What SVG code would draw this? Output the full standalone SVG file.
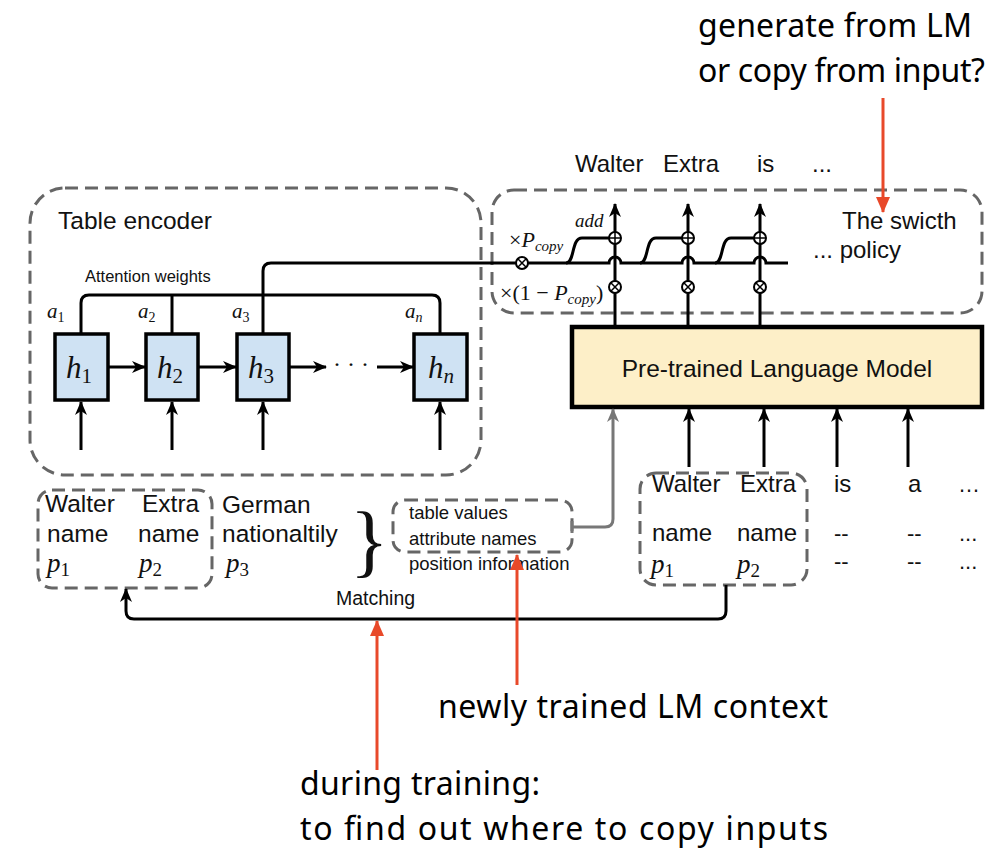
<svg xmlns="http://www.w3.org/2000/svg" width="1007" height="849" viewBox="0 0 1007 849">
<style>
.sans{font-family:"Liberation Sans",Arial,sans-serif;fill:#111}
.math{font-family:"Liberation Serif","Times New Roman",serif;font-style:italic;fill:#111}
.num{font-style:normal}
.note{font-family:"Noto Sans","Open Sans",sans-serif;fill:#000}
.dash{fill:none;stroke:#666;stroke-width:3;stroke-dasharray:13 7}
.hbox{fill:#cfe2f3;stroke:#000;stroke-width:3.5}
.ln{fill:none;stroke:#000;stroke-width:3}
.red{fill:none;stroke:#e8492a;stroke-width:3}
.op{fill:#fff;stroke:#000;stroke-width:2}
</style>
<defs>
<marker id="ah" markerUnits="userSpaceOnUse" markerWidth="14" markerHeight="14" refX="13" refY="7" orient="auto">
<path d="M0,1 L14,7 L0,13 L4,7 z" fill="#000"/>
</marker>
<marker id="ahg" markerUnits="userSpaceOnUse" markerWidth="14" markerHeight="14" refX="13" refY="7" orient="auto">
<path d="M0,1 L14,7 L0,13 L4,7 z" fill="#777"/>
</marker>
<marker id="ahr" markerUnits="userSpaceOnUse" markerWidth="16" markerHeight="16" refX="15" refY="8" orient="auto">
<path d="M0,1 L16,8 L0,15 z" fill="#e8492a"/>
</marker>
</defs>

<g id="table-encoder">
<rect class="dash" x="30" y="188" width="451" height="287" rx="35"/>
<text class="sans" x="58" y="229" font-size="24.5">Table encoder</text>
<text class="sans" x="85" y="282" font-size="16.5">Attention weights</text>
</g>

<g id="h1"><rect class="hbox" x="55" y="334" width="53" height="66"/><text class="math" x="66" y="378" font-size="31">h<tspan class="num" font-size="21" dy="5">1</tspan></text></g>
<g id="h2"><rect class="hbox" x="146" y="334" width="52" height="66"/><text class="math" x="157" y="378" font-size="31">h<tspan class="num" font-size="21" dy="5">2</tspan></text></g>
<g id="h3"><rect class="hbox" x="237" y="334" width="52" height="66"/><text class="math" x="248" y="378" font-size="31">h<tspan class="num" font-size="21" dy="5">3</tspan></text></g>
<g id="hn"><rect class="hbox" x="414" y="334" width="53" height="66"/><text class="math" x="428" y="378" font-size="31">h<tspan font-size="21" dy="5">n</tspan></text></g>

<g id="a-labels">
<text class="math" x="47" y="318" font-size="21">a<tspan class="num" font-size="14" dy="4">1</tspan></text>
<text class="math" x="138" y="318" font-size="21">a<tspan class="num" font-size="14" dy="4">2</tspan></text>
<text class="math" x="232" y="318" font-size="21">a<tspan class="num" font-size="14" dy="4">3</tspan></text>
<text class="math" x="405" y="318" font-size="21">a<tspan font-size="14" dy="4">n</tspan></text>
<text class="math num" x="333" y="372" font-size="24">· · ·</text>
</g>

<g id="switch-policy">
<rect class="dash" x="492" y="190" width="490" height="123" rx="22"/>
<text class="sans" x="842" y="229" font-size="24">The swicth</text>
<text class="sans" x="813" y="258" font-size="24">... policy</text>
<text class="math" x="575" y="227" font-size="19">add</text>
<text class="math" x="509" y="247" font-size="22"><tspan class="num">×</tspan>P<tspan font-size="15" dy="4">copy</tspan></text>
<text class="math" x="500" y="300" font-size="22"><tspan class="num">×(1 − </tspan>P<tspan font-size="15" dy="4">copy</tspan><tspan class="num" dy="-4">)</tspan></text>
</g>

<g id="outputs">
<text class="sans" x="575" y="172" font-size="24">Walter</text>
<text class="sans" x="663" y="172" font-size="24">Extra</text>
<text class="sans" x="757" y="172" font-size="24">is</text>
<text class="sans" x="812" y="172" font-size="24">...</text>
</g>

<g id="language-model">
<rect x="572" y="327" width="410" height="80" fill="#fdefc8" stroke="#000" stroke-width="4.5"/>
<text class="sans" x="777" y="377" font-size="24.5" text-anchor="middle">Pre-trained Language Model</text>
</g>

<g id="table-input">
<rect class="dash" x="38" y="490" width="174" height="98" rx="14"/>
<text class="sans" x="45" y="512" font-size="24.5">Walter</text>
<text class="sans" x="142" y="512" font-size="24.5">Extra</text>
<text class="sans" x="47" y="542" font-size="24.5">name</text>
<text class="sans" x="138" y="542" font-size="24.5">name</text>
<text class="math" x="47" y="572" font-size="27">p<tspan class="num" font-size="19" dy="4">1</tspan></text>
<text class="math" x="139" y="572" font-size="27">p<tspan class="num" font-size="19" dy="4">2</tspan></text>
<text class="sans" x="222" y="513" font-size="24.5">German</text>
<text class="sans" x="222" y="542" font-size="24.5">nationaltily</text>
<text class="math" x="226" y="572" font-size="27">p<tspan class="num" font-size="19" dy="4">3</tspan></text>
<text class="math num" x="350" y="567" font-size="80">}</text>
</g>

<g id="lm-context">
<rect class="dash" x="393" y="500" width="179" height="52" rx="12"/>
<text class="sans" x="409" y="519" font-size="18.5">table values</text>
<text class="sans" x="409" y="545" font-size="18.5">attribute names</text>
<text class="sans" x="409" y="570" font-size="18.5">position information</text>
</g>

<g id="lm-input">
<rect class="dash" x="640" y="473" width="167" height="112" rx="16"/>
<text class="sans" x="652" y="492" font-size="24">Walter</text>
<text class="sans" x="740" y="492" font-size="24">Extra</text>
<text class="sans" x="834" y="492" font-size="24">is</text>
<text class="sans" x="908" y="492" font-size="24">a</text>
<text class="sans" x="958" y="492" font-size="22">…</text>
<text class="sans" x="652" y="541" font-size="24">name</text>
<text class="sans" x="737" y="541" font-size="24">name</text>
<text class="sans" x="834" y="541" font-size="22">--</text>
<text class="sans" x="907" y="541" font-size="22">--</text>
<text class="sans" x="959" y="541" font-size="22">...</text>
<text class="math" x="651" y="573" font-size="27">p<tspan class="num" font-size="19" dy="4">1</tspan></text>
<text class="math" x="737" y="573" font-size="27">p<tspan class="num" font-size="19" dy="4">2</tspan></text>
<text class="sans" x="834" y="569" font-size="22">--</text>
<text class="sans" x="907" y="569" font-size="22">--</text>
<text class="sans" x="959" y="569" font-size="22">...</text>
</g>

<g id="matching-label"><text class="sans" x="336" y="605" font-size="19.5">Matching</text></g>

<g id="annotations">
<text class="note" x="698" y="37" font-size="32" textLength="274" lengthAdjust="spacing">generate from LM</text>
<text class="note" x="698" y="82" font-size="32" textLength="287" lengthAdjust="spacing">or copy from input?</text>
<text class="note" x="438" y="718" font-size="32" textLength="390" lengthAdjust="spacing">newly trained LM context</text>
<text class="note" x="300" y="795" font-size="32" textLength="240" lengthAdjust="spacing">during training:</text>
<text class="note" x="300" y="840" font-size="32" textLength="528" lengthAdjust="spacing">to find out where to copy inputs</text>
</g>

<g id="connectors">
<path class="ln" d="M81,450 V402" marker-end="url(#ah)"/>
<path class="ln" d="M172,450 V402" marker-end="url(#ah)"/>
<path class="ln" d="M263,450 V402" marker-end="url(#ah)"/>
<path class="ln" d="M440,450 V402" marker-end="url(#ah)"/>
<path class="ln" d="M108,367 H145" marker-end="url(#ah)"/>
<path class="ln" d="M198,367 H236" marker-end="url(#ah)"/>
<path class="ln" d="M289,367 H326" marker-end="url(#ah)"/>
<path class="ln" d="M377,367 H413" marker-end="url(#ah)"/>
<path class="ln" d="M81,334 V303 Q81,295 89,295 H432 Q440,295 440,303 V334"/>
<path class="ln" d="M172,334 V295"/>
<path class="ln" d="M263,334 V271 Q263,263 271,263 H609 A6,6 0 0 1 621,263 H682 A6,6 0 0 1 694,263 H754 A6,6 0 0 1 766,263 H788"/>
<path class="ln" d="M566,263 C575,263 571,238 582,238 H609"/>
<path class="ln" d="M640,263 C649,263 645,238 656,238 H682"/>
<path class="ln" d="M715,263 C724,263 720,238 731,238 H754"/>
<path class="ln" d="M615,327 V204" marker-end="url(#ah)"/>
<path class="ln" d="M688,327 V204" marker-end="url(#ah)"/>
<path class="ln" d="M760,327 V204" marker-end="url(#ah)"/>
<g id="ops">
<circle class="op" cx="522" cy="263" r="6"/><path d="M517.8,258.8 L526.2,267.2 M526.2,258.8 L517.8,267.2" stroke="#000" stroke-width="1.5"/>
<circle class="op" cx="615" cy="287" r="6"/><path d="M610.8,282.8 L619.2,291.2 M619.2,282.8 L610.8,291.2" stroke="#000" stroke-width="1.5"/>
<circle class="op" cx="688" cy="287" r="6"/><path d="M683.8,282.8 L692.2,291.2 M692.2,282.8 L683.8,291.2" stroke="#000" stroke-width="1.5"/>
<circle class="op" cx="760" cy="287" r="6"/><path d="M755.8,282.8 L764.2,291.2 M764.2,282.8 L755.8,291.2" stroke="#000" stroke-width="1.5"/>
<circle class="op" cx="615" cy="238" r="6"/><path d="M609,238 H621 M615,232 V244" stroke="#000" stroke-width="1.5"/>
<circle class="op" cx="688" cy="238" r="6"/><path d="M682,238 H694 M688,232 V244" stroke="#000" stroke-width="1.5"/>
<circle class="op" cx="760" cy="238" r="6"/><path d="M754,238 H766 M760,232 V244" stroke="#000" stroke-width="1.5"/>
</g>
<path class="ln" d="M689,467 V409" marker-end="url(#ah)"/>
<path class="ln" d="M764,467 V409" marker-end="url(#ah)"/>
<path class="ln" d="M837,467 V409" marker-end="url(#ah)"/>
<path class="ln" d="M908,467 V409" marker-end="url(#ah)"/>
<path d="M572,521 V533 M572,527 H605 Q613,527 613,519 V409" fill="none" stroke="#777" stroke-width="3" marker-end="url(#ahg)"/>
<path class="ln" d="M726,585 V611 Q726,619 718,619 H134 Q126,619 126,611 V589" marker-end="url(#ah)"/>
<path class="red" d="M883,98 V212" marker-end="url(#ahr)"/>
<path class="red" d="M517,685 V555" marker-end="url(#ahr)"/>
<path class="red" d="M377,770 V621" marker-end="url(#ahr)"/>
</g>
</svg>
